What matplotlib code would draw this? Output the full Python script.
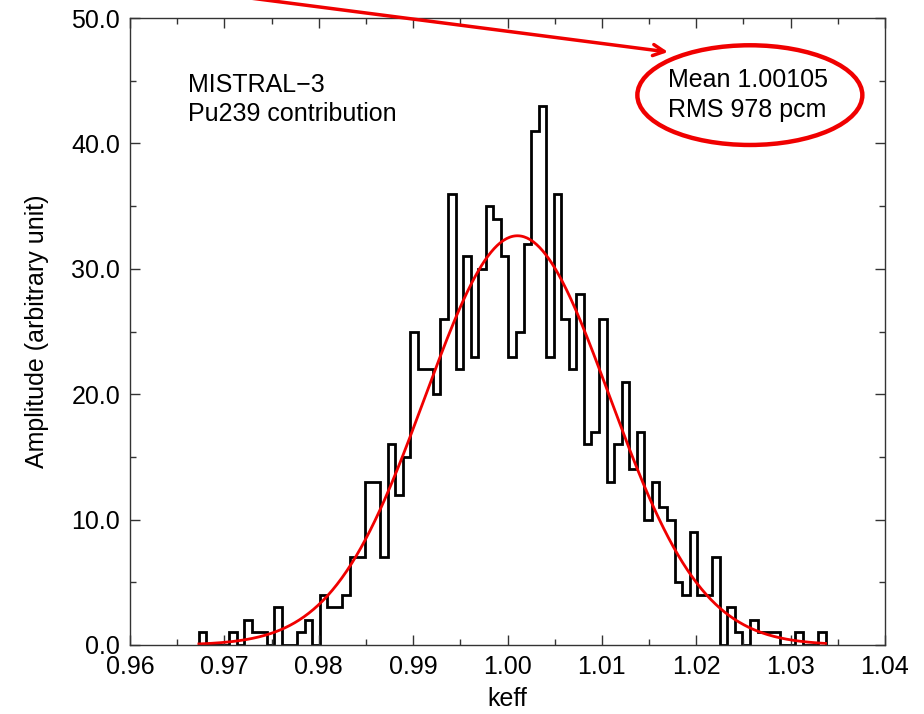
import numpy as np
import matplotlib
matplotlib.use("Agg")
import matplotlib.pyplot as plt
from matplotlib.patches import Ellipse
from matplotlib.ticker import MultipleLocator, FormatStrFormatter

# ── Data ───────────────────────────────────────────────────────────────────
BIN_LO = 0.9673
BIN_WIDTH = 0.0008
COUNTS = [
    1, 0, 0, 0, 1, 0, 2, 1, 1, 0,
    3, 0, 0, 1, 2, 0, 4, 3, 3, 4,
    7, 7, 13, 13, 7, 16, 12, 15, 25, 22,
    22, 20, 26, 36, 22, 31, 23, 30, 35, 34,
    31, 23, 25, 32, 41, 43, 23, 36, 26, 22,
    28, 16, 17, 26, 13, 16, 21, 14, 17, 10,
    13, 11, 10, 5, 4, 9, 4, 4, 7, 0,
    3, 1, 0, 2, 1, 1, 1, 0, 0, 1,
    0, 0, 1,
]
FIT_MEAN = 1.00105
FIT_RMS = 0.00978

LABEL_LINES = ["MISTRAL\u22123", "Pu239 contribution"]
STAT_LINES = ["Mean 1.00105", "RMS 978 pcm"]

plt.rcParams["font.family"] = ["Liberation Sans", "DejaVu Sans"]

counts = np.array(COUNTS, dtype=float)
edges = BIN_LO + BIN_WIDTH * np.arange(len(counts) + 1)

# gaussian fit drawn from the fitted parameters
amp = counts.sum() * BIN_WIDTH / (FIT_RMS * np.sqrt(2 * np.pi))
xf = np.linspace(edges[0], edges[-1], 400)
yf = amp * np.exp(-0.5 * ((xf - FIT_MEAN) / FIT_RMS) ** 2)

fig = plt.figure(figsize=(9.24, 7.14), dpi=100)
ax = fig.add_axes([130 / 924, 1 - 645 / 714, 755 / 924, 627 / 714])

ax.stairs(counts, edges, color="black", linewidth=2.0, baseline=0)
ax.plot(xf, yf, color="#f00000", linewidth=2.0)

ax.set_xlim(0.96, 1.04)
ax.set_ylim(0, 50)
ax.xaxis.set_major_locator(MultipleLocator(0.01))
ax.xaxis.set_minor_locator(MultipleLocator(0.005))
ax.yaxis.set_major_locator(MultipleLocator(10))
ax.yaxis.set_minor_locator(MultipleLocator(5))
ax.xaxis.set_major_formatter(FormatStrFormatter("%.2f"))
ax.yaxis.set_major_formatter(FormatStrFormatter("%.1f"))
ax.tick_params(which="both", direction="in", top=True, right=True,
               labelsize=18, color="#333333", width=1.0)
ax.tick_params(which="major", length=7, pad=7)
ax.tick_params(which="minor", length=4)
for sp in ax.spines.values():
    sp.set_linewidth(1.0)
    sp.set_color("#333333")

ax.set_xlabel("keff", fontsize=18, labelpad=6)
ax.set_ylabel("Amplitude (arbitrary unit)", fontsize=18, labelpad=16)

ax.text(0.077, 0.893, LABEL_LINES[0], transform=ax.transAxes, fontsize=18, va="center")
ax.text(0.077, 0.847, LABEL_LINES[1], transform=ax.transAxes, fontsize=18, va="center")
ax.text(0.712, 0.901, STAT_LINES[0], transform=ax.transAxes, fontsize=18, va="center")
ax.text(0.712, 0.853, STAT_LINES[1], transform=ax.transAxes, fontsize=18, va="center")

# red highlight: ellipse around the stats and an arrow pointing at it
ax.add_patch(Ellipse((0.821, 0.877), 0.298, 0.159, transform=ax.transAxes,
                     fill=False, edgecolor="#f00000", linewidth=3.2, clip_on=False))
ax.annotate("", xy=(668 / 924, 1 - 52 / 714), xycoords="figure fraction",
            xytext=(250 / 924, 1 + 2 / 714), textcoords="figure fraction",
            arrowprops=dict(arrowstyle="->,head_length=0.8,head_width=0.4",
                            color="#f00000", linewidth=2.5, shrinkA=0, shrinkB=0),
            annotation_clip=False)

fig.savefig("out.png", dpi=100)
